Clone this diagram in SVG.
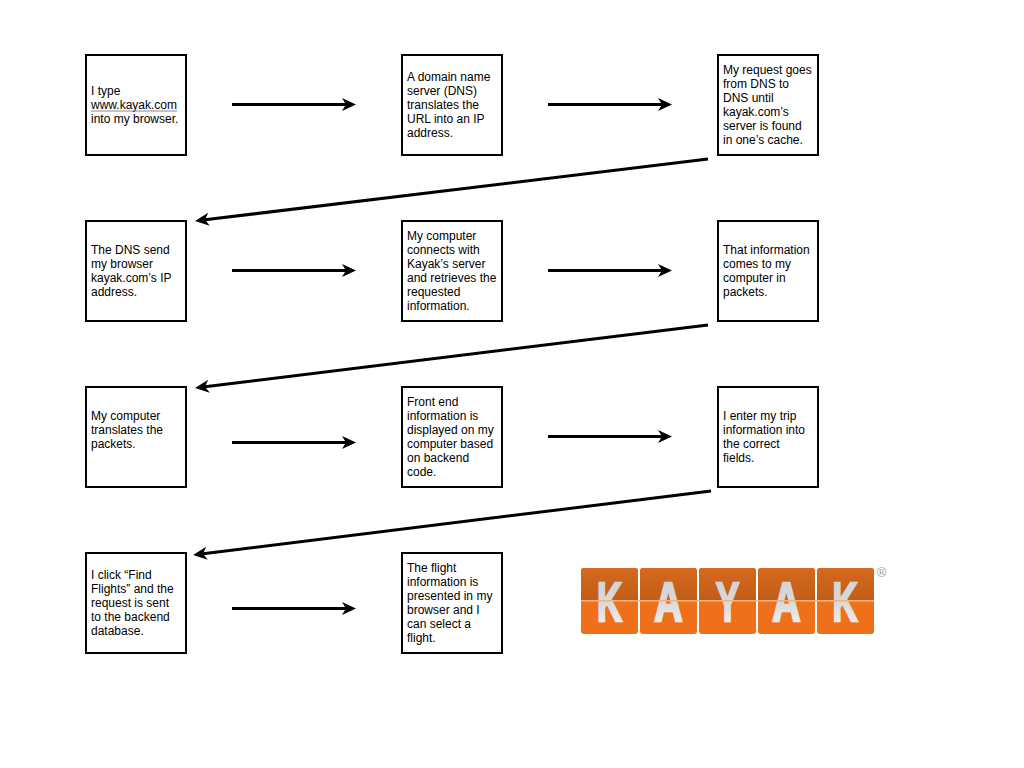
<svg xmlns="http://www.w3.org/2000/svg" width="1024" height="768" viewBox="0 0 1024 768">
<defs>
<marker id="arrow" markerUnits="userSpaceOnUse" markerWidth="16" markerHeight="16" refX="4" refY="8" orient="auto">
<path d="M0 1.500 L14 8 L0 14.500 L4 8 Z" fill="#000"/>
</marker>
<linearGradient id="top" x1="0" y1="0" x2="0" y2="1"><stop offset="0" stop-color="#d5691f"/><stop offset="1" stop-color="#c25d17"/></linearGradient>
<linearGradient id="ltr" x1="0" y1="0" x2="0" y2="1"><stop offset="0" stop-color="#cfd1d3"/><stop offset="0.5" stop-color="#d8d9da"/><stop offset="1" stop-color="#f8f6f2"/></linearGradient>
</defs>
<style>
.box{fill:#fff;stroke:#000;stroke-width:2}
text{font-family:"Liberation Sans",Arial,sans-serif;font-size:12px;fill:#000}
.conn{stroke:#000;stroke-width:3;fill:none;marker-end:url(#arrow)}
.tile{fill:#ef701a}
.tt{fill:url(#top)}
.logo{font-family:"Liberation Sans",Arial,sans-serif;font-size:56px;font-weight:bold;fill:url(#ltr);stroke:url(#ltr);stroke-width:2.500}
</style>
<g id="connectors">
<line class="conn" x1="232" y1="104.500" x2="346" y2="104.500"/>
<line class="conn" x1="548" y1="104.500" x2="662" y2="104.500"/>
<line class="conn" x1="708" y1="159" x2="205" y2="219.800"/>
<line class="conn" x1="232" y1="270.500" x2="346" y2="270.500"/>
<line class="conn" x1="548" y1="270.500" x2="662" y2="270.500"/>
<line class="conn" x1="708" y1="325" x2="205" y2="386.800"/>
<line class="conn" x1="232" y1="442.500" x2="346" y2="442.500"/>
<line class="conn" x1="548" y1="436.500" x2="662" y2="436.500"/>
<line class="conn" x1="711" y1="491" x2="203" y2="553.800"/>
<line class="conn" x1="232" y1="608.500" x2="346" y2="608.500"/>
</g>
<g id="n1"><rect class="box" x="86" y="55" width="100" height="100"/><text x="91" y="95">I type</text><text x="91" y="109">www.kayak.com</text><text x="91" y="123">into my browser.</text><line x1="91" y1="111" x2="177" y2="111" stroke="#888" stroke-width="1"/></g>
<g id="n2"><rect class="box" x="402" y="55" width="100" height="100"/><text x="407" y="81">A domain name</text><text x="407" y="95">server (DNS)</text><text x="407" y="109">translates the</text><text x="407" y="123">URL into an IP</text><text x="407" y="137">address.</text></g>
<g id="n3"><rect class="box" x="718" y="55" width="100" height="100"/><text x="723" y="74">My request goes</text><text x="723" y="88">from DNS to</text><text x="723" y="102">DNS until</text><text x="723" y="116">kayak.com’s</text><text x="723" y="130">server is found</text><text x="723" y="144">in one’s cache.</text></g>
<g id="n4"><rect class="box" x="86" y="221" width="100" height="100"/><text x="91" y="254">The DNS send</text><text x="91" y="268">my browser</text><text x="91" y="282">kayak.com’s IP</text><text x="91" y="296">address.</text></g>
<g id="n5"><rect class="box" x="402" y="221" width="100" height="100"/><text x="407" y="240">My computer</text><text x="407" y="254">connects with</text><text x="407" y="268">Kayak’s server</text><text x="407" y="282">and retrieves the</text><text x="407" y="296">requested</text><text x="407" y="310">information.</text></g>
<g id="n6"><rect class="box" x="718" y="221" width="100" height="100"/><text x="723" y="254">That information</text><text x="723" y="268">comes to my</text><text x="723" y="282">computer in</text><text x="723" y="296">packets.</text></g>
<g id="n7"><rect class="box" x="86" y="387" width="100" height="100"/><text x="91" y="420">My computer</text><text x="91" y="434">translates the</text><text x="91" y="448">packets.</text></g>
<g id="n8"><rect class="box" x="402" y="387" width="100" height="100"/><text x="407" y="406">Front end</text><text x="407" y="420">information is</text><text x="407" y="434">displayed on my</text><text x="407" y="448">computer based</text><text x="407" y="462">on backend</text><text x="407" y="476">code.</text></g>
<g id="n9"><rect class="box" x="718" y="387" width="100" height="100"/><text x="723" y="420">I enter my trip</text><text x="723" y="434">information into</text><text x="723" y="448">the correct</text><text x="723" y="462">fields.</text></g>
<g id="n10"><rect class="box" x="86" y="553" width="100" height="100"/><text x="91" y="579">I click “Find</text><text x="91" y="593">Flights” and the</text><text x="91" y="607">request is sent</text><text x="91" y="621">to the backend</text><text x="91" y="635">database.</text></g>
<g id="n11"><rect class="box" x="402" y="553" width="100" height="100"/><text x="407" y="572">The flight</text><text x="407" y="586">information is</text><text x="407" y="600">presented in my</text><text x="407" y="614">browser and I</text><text x="407" y="628">can select a</text><text x="407" y="642">flight.</text></g>
<g id="logo">
<rect class="tile" x="581" y="568" width="57" height="66" rx="3"/><path class="tt" d="M581 600V571a3 3 0 0 1 3-3h51a3 3 0 0 1 3 3v29Z"/>
<rect class="tile" x="640" y="568" width="57" height="66" rx="3"/><path class="tt" d="M640 600V571a3 3 0 0 1 3-3h51a3 3 0 0 1 3 3v29Z"/>
<rect class="tile" x="699" y="568" width="57" height="66" rx="3"/><path class="tt" d="M699 600V571a3 3 0 0 1 3-3h51a3 3 0 0 1 3 3v29Z"/>
<rect class="tile" x="758" y="568" width="57" height="66" rx="3"/><path class="tt" d="M758 600V571a3 3 0 0 1 3-3h51a3 3 0 0 1 3 3v29Z"/>
<rect class="tile" x="817" y="568" width="57" height="66" rx="3"/><path class="tt" d="M817 600V571a3 3 0 0 1 3-3h51a3 3 0 0 1 3 3v29Z"/>
<text class="logo" transform="translate(609.500 621) scale(0.62 1)" text-anchor="middle">K</text>
<text class="logo" transform="translate(668.500 621) scale(0.7 1)" text-anchor="middle">A</text>
<text class="logo" transform="translate(727.500 621) scale(0.62 1)" text-anchor="middle">Y</text>
<text class="logo" transform="translate(786.500 621) scale(0.7 1)" text-anchor="middle">A</text>
<text class="logo" transform="translate(845 621) scale(0.62 1)" text-anchor="middle">K</text>
<rect x="581" y="600" width="293" height="1.500" fill="#f4b27c"/>
<text x="881.500" y="577" text-anchor="middle" style="font-size:13px;fill:#999">®</text>
</g>
</svg>
